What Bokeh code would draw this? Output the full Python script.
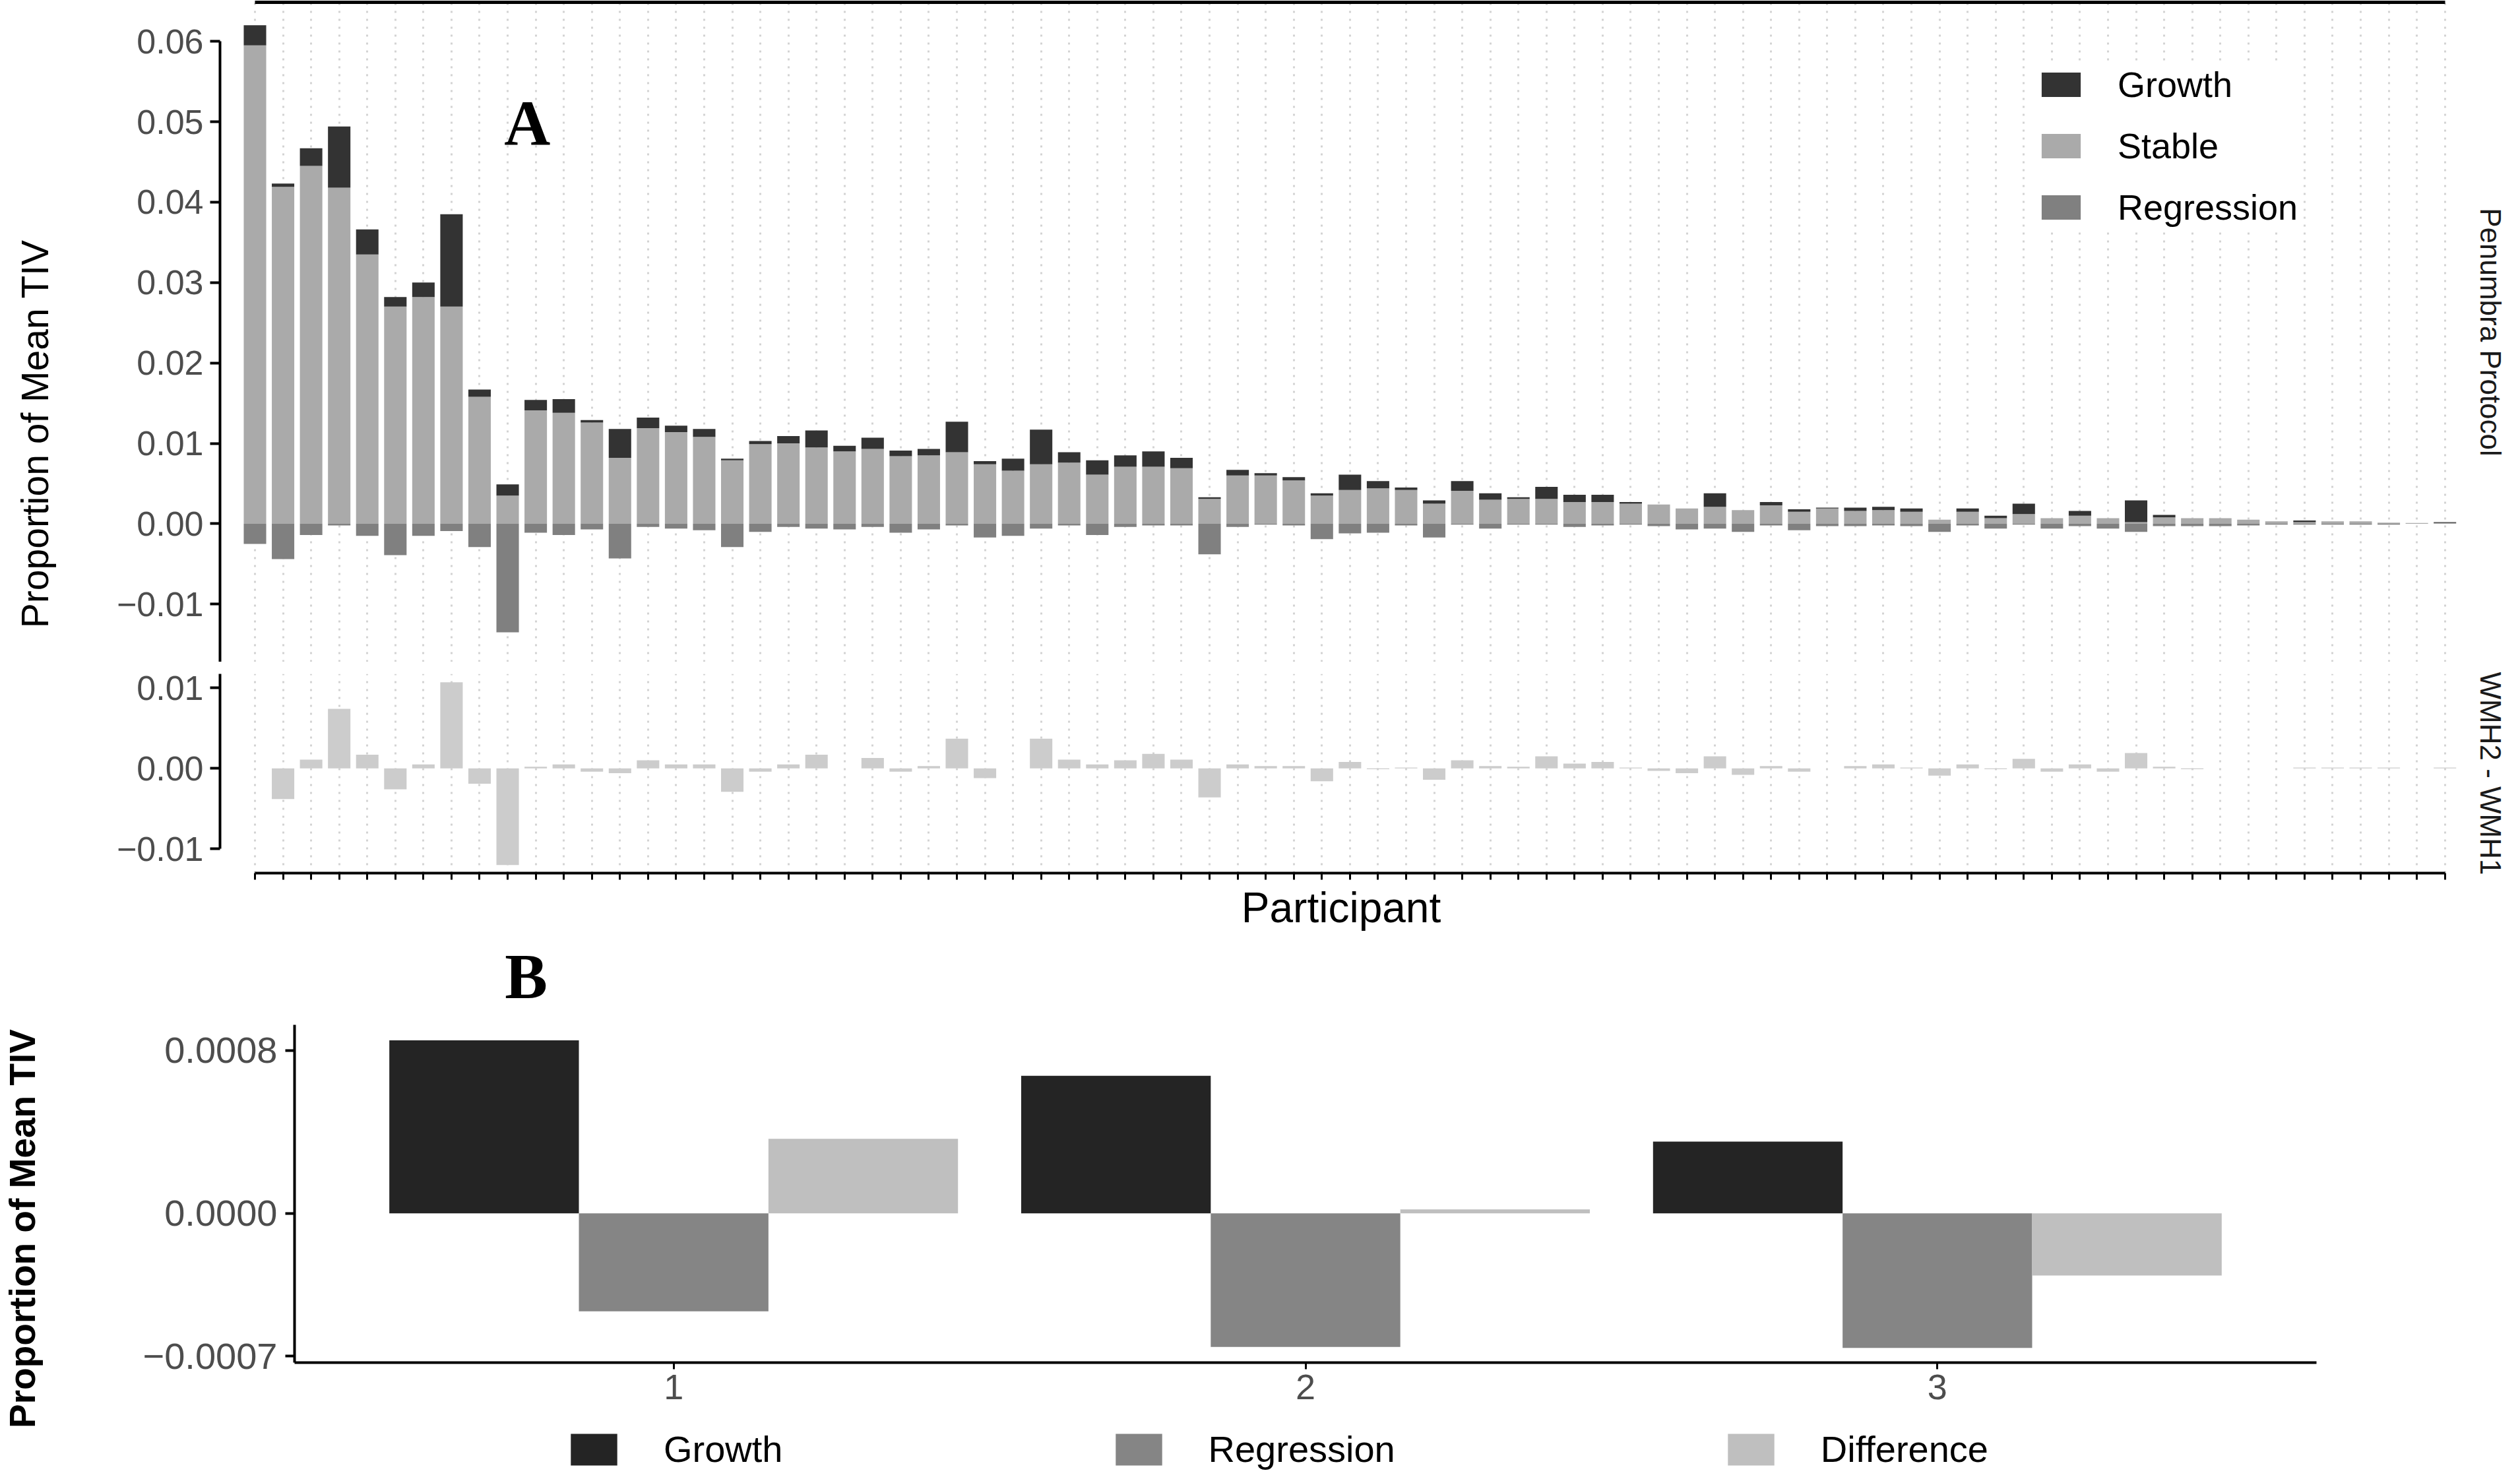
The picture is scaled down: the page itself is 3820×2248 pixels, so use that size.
import math
from bokeh.plotting import figure
from bokeh.models import (Range1d, LinearAxis, FixedTicker, Grid, Legend, LegendItem,
                          Label, ColumnDataSource, CustomJSTickFormatter)
from bokeh.layouts import row, column
from bokeh.transform import dodge
from bokeh.core.properties import value
from bokeh.embed import file_html
from bokeh.resources import INLINE

# ---------------- data ----------------
participants = list(range(1, 80))
stable = [0.0595, 0.0419, 0.0445, 0.0418, 0.0335, 0.0270, 0.0282, 0.0270, 0.0158, 0.0035,
          0.0141, 0.0138, 0.0126, 0.0082, 0.0119, 0.0114, 0.0108, 0.0079, 0.0099, 0.0100,
          0.0095, 0.0090, 0.0093, 0.0084, 0.0085, 0.0089, 0.0074, 0.0066, 0.0074, 0.0076,
          0.0061, 0.0071, 0.0071, 0.0069, 0.0031, 0.0060, 0.0060, 0.0054, 0.0035, 0.0042,
          0.0044, 0.0042, 0.0025, 0.0041, 0.0030, 0.0031, 0.0031, 0.0027, 0.0027, 0.0025,
          0.0024, 0.0019, 0.0021, 0.0017, 0.0023, 0.0015, 0.0019, 0.0016, 0.0017, 0.0015,
          0.0005, 0.0015, 0.0007, 0.0012, 0.0007, 0.0010, 0.0007, 0.0002, 0.0008, 0.0007,
          0.0007, 0.0005, 0.0003, 0.0002, 0.0003, 0.0003, 0.00015, 0.0001, 0.0001]
growth = [0.0025, 0.0004, 0.0022, 0.0076, 0.0031, 0.0012, 0.0018, 0.0115, 0.0009, 0.0014,
          0.0013, 0.0017, 0.0003, 0.0036, 0.0013, 0.0008, 0.0010, 0.0002, 0.0004, 0.0009,
          0.0021, 0.0007, 0.0014, 0.0007, 0.0008, 0.0038, 0.0004, 0.0015, 0.0043, 0.0013,
          0.0018, 0.0014, 0.0019, 0.0013, 0.0002, 0.0007, 0.0003, 0.0004, 0.0003, 0.0019,
          0.0009, 0.0003, 0.0004, 0.0012, 0.0008, 0.0002, 0.0015, 0.0009, 0.0009, 0.0002,
          0.0000, 0.0000, 0.0017, 0.0000, 0.0004, 0.0003, 0.0001, 0.0004, 0.0004, 0.0004,
          0.0000, 0.0004, 0.0003, 0.0013, 0.0000, 0.0006, 0.0000, 0.0027, 0.0003, 0.0000,
          0.0000, 0.0000, 0.0000, 0.0002, 0.0000, 0.0000, 0.0000, 0.0000, 0.0001]
regression = [-0.0025, -0.0044, -0.0014, -0.0002, -0.0015, -0.0039, -0.0015, -0.0009, -0.0029, -0.0135,
              -0.0011, -0.0014, -0.0007, -0.0043, -0.0004, -0.0006, -0.0008, -0.0029, -0.0010, -0.0004,
              -0.0006, -0.0007, -0.0004, -0.0011, -0.0007, -0.0002, -0.0017, -0.0015, -0.0006, -0.0002,
              -0.0014, -0.0004, -0.0002, -0.0002, -0.0038, -0.0004, -0.0001, -0.0002, -0.0019, -0.0012,
              -0.0011, -0.0002, -0.0017, -0.0001, -0.0006, -0.0001, -0.0001, -0.0004, -0.0002, -0.0001,
              -0.0003, -0.0007, -0.0006, -0.0010, -0.0002, -0.0008, -0.0003, -0.0003, -0.0002, -0.0003,
              -0.0010, -0.0002, -0.0006, -0.0001, -0.0006, -0.0003, -0.0006, -0.0010, -0.0003, -0.0003,
              -0.0003, -0.0002, -0.0001, -0.0001, -0.0001, -0.0001, -0.0001, 0.0000, 0.0000]
difference = [0.0000, -0.0038, 0.0011, 0.0074, 0.0017, -0.0026, 0.0005, 0.0107, -0.0019, -0.0120,
              0.0002, 0.0005, -0.0004, -0.0006, 0.0010, 0.0005, 0.0005, -0.0029, -0.0004, 0.0005,
              0.0017, 0.0000, 0.0013, -0.0004, 0.0003, 0.0037, -0.0012, 0.0000, 0.0037, 0.0011,
              0.0005, 0.0010, 0.0018, 0.0011, -0.0036, 0.0005, 0.0003, 0.0003, -0.0016, 0.0008,
              -0.0001, 0.0001, -0.0014, 0.0010, 0.0003, 0.0002, 0.0015, 0.0006, 0.0008, 0.0001,
              -0.0003, -0.0006, 0.0015, -0.0008, 0.0003, -0.0004, 0.0000, 0.0003, 0.0005, 0.0001,
              -0.0009, 0.0005, -0.0001, 0.0012, -0.0004, 0.0005, -0.0004, 0.0019, 0.0002, -0.0001,
              0.0000, 0.0000, 0.0000, 0.0001, 0.0001, 0.0001, 0.0001, 0.0000, 0.0001]

groups = [1, 2, 3]
group_labels = ["1", "2", "3"]
group_growth = [0.000849, 0.000675, 0.000352]
group_regression = [-0.000480, -0.000655, -0.000660]
group_difference = [0.000366, 0.000020, -0.000305]

a_ticks = [-0.01, 0.0, 0.01, 0.02, 0.03, 0.04, 0.05, 0.06]
diff_ticks = [-0.01, 0.0, 0.01]
b_ticks = [-0.0007, 0.0, 0.0008]

# ---------------- style ----------------
SANS = "Liberation Sans"
SERIF = "Liberation Serif"
C_GROWTH, C_STABLE, C_REG, C_DIFF = "#333333", "#aaaaaa", "#808080", "#cccccc"
CB_GROWTH, CB_REG, CB_DIFF = "#242424", "#858585", "#bfbfbf"
TICK_COL = "#4d4d4d"

fmt2 = CustomJSTickFormatter(code="return tick.toFixed(2).replace('-', '\u2212');")
fmt4 = CustomJSTickFormatter(code="return tick.toFixed(4).replace('-', '\u2212');")
fmt_blank = CustomJSTickFormatter(code="return '';")


def base_fig(**kw):
    p = figure(toolbar_location=None, output_backend="svg", title=None,
               x_axis_location=None, y_axis_location=None, **kw)
    p.center = [r for r in p.center if not isinstance(r, Grid)]
    p.outline_line_color = None
    p.background_fill_color = "white"
    p.border_fill_color = "white"
    return p


def style_axis(ax, size, tick_out=15):
    ax.axis_line_color = "black"
    ax.axis_line_width = 4
    ax.major_tick_line_color = "black"
    ax.major_tick_line_width = 4
    ax.major_tick_in = 0
    ax.major_tick_out = tick_out
    ax.minor_tick_line_color = None
    ax.minor_tick_in = 0
    ax.minor_tick_out = 0
    ax.major_label_text_font = SANS
    ax.major_label_text_font_size = size
    ax.major_label_text_color = TICK_COL
    ax.major_label_standoff = 10


src = ColumnDataSource(dict(participant=participants, stable=stable, growth=growth,
                            regression=regression, difference=difference))
xr = Range1d(-0.2453, 79.618)

# ---------------- panel A: top ----------------
p1 = base_fig(width=3640, height=1003, x_range=xr, y_range=Range1d(-0.01719, 0.06485),
              min_border_left=233, min_border_right=8, min_border_top=3, min_border_bottom=0)
p1.add_layout(Grid(dimension=0, ticker=FixedTicker(ticks=participants),
                   grid_line_color="#d3d3d3", grid_line_width=3, grid_line_dash="3 9"), "center")
rs = p1.vbar_stack(["stable", "growth"], x="participant", width=0.8, source=src,
                   fill_color=[C_STABLE, C_GROWTH], line_color=None)
r_reg = p1.vbar(x="participant", top=0, bottom="regression", width=0.8, source=src,
                fill_color=C_REG, line_color=None)

ya1 = LinearAxis(ticker=FixedTicker(ticks=a_ticks), formatter=fmt2, bounds=(-0.01719, 0.06))
style_axis(ya1, "52px")
p1.add_layout(ya1, "left")
top_ax = LinearAxis(ticker=FixedTicker(ticks=[]), bounds=(participants[0], participants[-1]))
style_axis(top_ax, "10px", tick_out=0)
top_ax.axis_line_width = 5
top_ax.major_label_standoff = 0
p1.add_layout(top_ax, "above")

legA = Legend(items=[LegendItem(label="Growth", renderers=[rs[1]]),
                     LegendItem(label="Stable", renderers=[rs[0]]),
                     LegendItem(label="Regression", renderers=[r_reg])],
              location=(2754, 658), orientation="vertical",
              glyph_width=74, glyph_height=46, label_height=62, spacing=31, padding=20,
              margin=0, label_standoff=49, label_text_font=SANS, label_text_font_size="54px",
              label_text_color="black", background_fill_color="white", background_fill_alpha=1.0,
              border_line_color=None)
p1.add_layout(legA, "center")

p1.add_layout(Label(x=10.70, y=0.04984, text="A", text_font=SERIF, text_font_style="bold",
                    text_font_size="97px", text_align="center", text_baseline="middle",
                    text_color="black"))

# ---------------- panel A: difference ----------------
p2 = base_fig(width=3640, height=420, x_range=xr, y_range=Range1d(-0.013008, 0.011746),
              min_border_left=233, min_border_right=8, min_border_top=18, min_border_bottom=100)
p2.add_layout(Grid(dimension=0, ticker=FixedTicker(ticks=participants),
                   grid_line_color="#d3d3d3", grid_line_width=3, grid_line_dash="3 9"), "center")
p2.vbar(x="participant", top="difference", bottom=0, width=0.8, source=src,
        fill_color=C_DIFF, line_color=None)
ya2 = LinearAxis(ticker=FixedTicker(ticks=diff_ticks), formatter=fmt2, bounds=(-0.01, 0.011746))
style_axis(ya2, "52px")
p2.add_layout(ya2, "left")
xa2 = LinearAxis(ticker=FixedTicker(ticks=participants), bounds=(participants[0], participants[-1]),
                 formatter=fmt_blank, axis_label="Participant")
style_axis(xa2, "10px", tick_out=10)
xa2.major_tick_line_width = 3
xa2.major_label_standoff = 0
xa2.axis_label_text_font = SANS
xa2.axis_label_text_font_size = "64px"
xa2.axis_label_text_font_style = "normal"
xa2.axis_label_text_color = "black"
xa2.axis_label_standoff = 6
p2.add_layout(xa2, "below")

# ---------------- side label figures (panel A) ----------------
lab = base_fig(width=100, height=1423, x_range=Range1d(0, 100), y_range=Range1d(1423, 0),
               min_border=0)
lab.text(x=[52], y=[657], text=["Proportion of Mean TIV"], angle=math.pi / 2,
         text_align="center", text_baseline="middle", text_font=value(SANS),
         text_font_size="57px", text_color="black")

strip = base_fig(width=64, height=1423, x_range=Range1d(0, 64), y_range=Range1d(1423, 0),
                 min_border=0)
strip.text(x=[35, 35], y=[503, 1172], text=["Penumbra Protocol", "WMH2 - WMH1"],
           angle=-math.pi / 2, text_align="center", text_baseline="middle",
           text_font=value(SANS), text_font_size="44px", text_color="#1a1a1a")

# ---------------- panel B heading row ----------------
bfig = base_fig(width=3804, height=125, x_range=Range1d(0, 3804), y_range=Range1d(125, 0),
                min_border=0)
bfig.text(x=[797], y=[57], text=["B"], text_align="center", text_baseline="middle",
          text_font=value(SERIF), text_font_style="bold", text_font_size="97px",
          text_color="black")

# ---------------- panel B ----------------
srcB = ColumnDataSource(dict(group=groups, growth=group_growth, regression=group_regression,
                             difference=group_difference))
pB = base_fig(width=3704, height=604, x_range=Range1d(0.4, 3.6),
              y_range=Range1d(-0.000732, 0.000925),
              min_border_left=346, min_border_right=293, min_border_top=5, min_border_bottom=87)
rb1 = pB.vbar(x=dodge("group", -0.3, range=pB.x_range), top="growth", bottom=0, width=0.3,
              source=srcB, fill_color=CB_GROWTH, line_color=None)
rb2 = pB.vbar(x=dodge("group", 0.0, range=pB.x_range), top=0, bottom="regression", width=0.3,
              source=srcB, fill_color=CB_REG, line_color=None)
rb3 = pB.vbar(x=dodge("group", 0.3, range=pB.x_range), top="difference", bottom=0, width=0.3,
              source=srcB, fill_color=CB_DIFF, line_color=None)

yaB = LinearAxis(ticker=FixedTicker(ticks=b_ticks), formatter=fmt4)
style_axis(yaB, "56px", tick_out=14)
yaB.major_label_standoff = 12
pB.add_layout(yaB, "left")

xaB = LinearAxis(ticker=FixedTicker(ticks=groups),
                 major_label_overrides={g: s for g, s in zip(groups, group_labels)})
style_axis(xaB, "54px", tick_out=10)
xaB.major_tick_line_width = 3
xaB.major_label_standoff = 8
pB.add_layout(xaB, "below")

# ---------------- legend row for panel B ----------------
legfig = base_fig(width=3704, height=80, x_range=Range1d(10, 11), y_range=Range1d(0, 1),
                  min_border=0)
lg1 = legfig.vbar(x="group", top="growth", bottom=0, width=0.3, source=srcB,
                  fill_color=CB_GROWTH, line_color=None)
lg2 = legfig.vbar(x="group", top=0, bottom="regression", width=0.3, source=srcB,
                  fill_color=CB_REG, line_color=None)
lg3 = legfig.vbar(x="group", top="difference", bottom=0, width=0.3, source=srcB,
                  fill_color=CB_DIFF, line_color=None)
legB = Legend(items=[LegendItem(label="Growth", renderers=[lg1]),
                     LegendItem(label="Regression", renderers=[lg2]),
                     LegendItem(label="Difference", renderers=[lg3])],
              orientation="horizontal", location=(410, 3),
              glyph_width=88, glyph_height=60, label_height=60, spacing=495, padding=5,
              margin=0, label_standoff=62, label_text_font=SANS, label_text_font_size="56px",
              label_text_color="black", border_line_color=None, background_fill_alpha=0)
legfig.add_layout(legB, "center")

# ---------------- y-axis title for panel B ----------------
labB = base_fig(width=100, height=684, x_range=Range1d(0, 100), y_range=Range1d(684, 0),
                min_border=0)
labB.text(x=[33], y=[314], text=["Proportion of Mean TIV"], angle=math.pi / 2,
          text_align="center", text_baseline="middle", text_font=value(SANS),
          text_font_style="bold", text_font_size="55px", text_color="black")

layout = column(row(lab, column(p1, p2), strip), bfig, row(labB, column(pB, legfig)))

with open("out.html", "w", encoding="utf-8") as f:
    f.write(file_html(layout, INLINE))
